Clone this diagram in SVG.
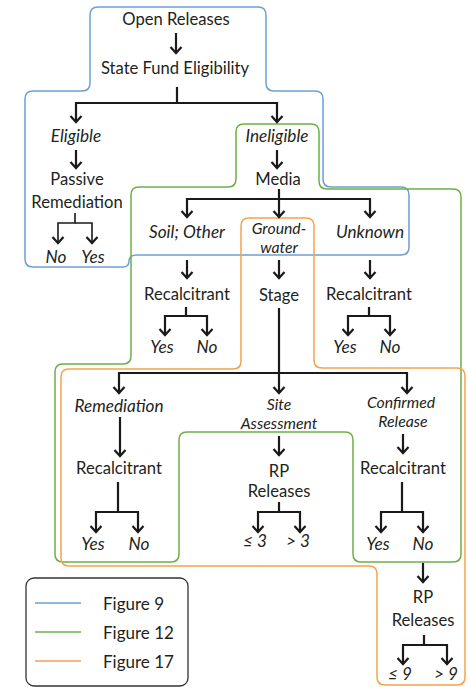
<svg xmlns="http://www.w3.org/2000/svg" width="468" height="687" viewBox="0 0 468 687">
<defs>
<style>
text{font-family:Lato,"Open Sans","Liberation Sans",sans-serif;font-size:16.6px;fill:#231f20;text-anchor:middle}
.i{font-style:italic;font-size:17.2px}
.i2{font-style:italic;font-size:15.8px}
.l{text-anchor:start;font-size:17px}
.c{fill:none;stroke:#1a1a1a;stroke-width:2.2;marker-end:url(#ah)}
.t{stroke-width:1.6}
.o{fill:none;stroke-width:1.5}
.blue{stroke:#6f9fd5}
.green{stroke:#6cb046}
.orange{stroke:#f5a24c}
</style>
<marker id="ah" viewBox="-8 -7 10 14" refX="0" refY="0" markerWidth="10" markerHeight="14" markerUnits="userSpaceOnUse" orient="auto">
<path d="M-6,-5.5 L0,0 L-6,5.5" fill="none" stroke="#1a1a1a" stroke-width="2.2"/>
</marker>
</defs>
<rect width="468" height="687" fill="#fff"/>
<g id="outlines">
<path class="o blue" d="M98,7 H258 Q266,7 266,15 V83 Q266,91 274,91 H315 Q323,91 323,99 V179 Q323,187 331,187 H401 Q409,187 409,195 V247 Q409,255 401,255 H137 Q129,255 129,261 Q129,267 123,267 H33 Q25,267 25,259 V99 Q25,91 33,91 H82 Q90,91 90,83 V15 Q90,7 98,7 Z"/>
<path class="o green" d="M244,124 H311 Q319,124 319,132 V181 Q319,189 327,189 H453 Q461,189 461,197 V554 Q461,562 453,562 H361 Q353,562 353,554 V440 Q353,432 345,432 H187 Q179,432 179,440 V554 Q179,562 171,562 H63 Q55,562 55,554 V372 Q55,364 63,364 H123 Q131,364 131,356 V195 Q131,187 139,187 H228 Q236,187 236,179 V132 Q236,124 244,124 Z"/>
<path class="o orange" d="M249,218 H306 Q314,218 314,226 V360 Q314,368 322,368 H457 Q465,368 465,376 V677 Q465,685 457,685 H385 Q377,685 377,677 V574 Q377,566 369,566 H69 Q61,566 61,558 V377 Q61,369 69,369 H233 Q241,369 241,361 V226 Q241,218 249,218 Z"/>
</g>
<g id="connectors">
<path class="c" d="M176,33 V53"/>
<path class="c" d="M177,87 V103 H76 V122"/>
<path class="c" d="M177,103 H277 V122"/>
<path class="c" d="M76,150 V168"/>
<path class="c t" d="M75,213 V223 H58 V243"/>
<path class="c t" d="M75,223 H92 V243"/>
<path class="c" d="M277,150 V168"/>
<path class="c" d="M279,189 V199 H187 V217"/>
<path class="c" d="M279,199 V217"/>
<path class="c" d="M279,199 H370 V217"/>
<path class="c" d="M187,260 V278"/>
<path class="c" d="M279,260 V278"/>
<path class="c" d="M370,260 V278"/>
<path class="c" d="M186,307 V316 H165 V335"/>
<path class="c" d="M186,316 H207 V335"/>
<path class="c" d="M369,307 V316 H348 V335"/>
<path class="c" d="M369,316 H390 V335"/>
<path class="c" d="M279,308 V373 H119 V393"/>
<path class="c" d="M279,373 V393"/>
<path class="c" d="M279,373 H407 V393"/>
<path class="c" d="M120,417 V456"/>
<path class="c" d="M118,482 V512 H96 V532"/>
<path class="c" d="M118,512 H138 V532"/>
<path class="c" d="M279,436 V455"/>
<path class="c" d="M279,502 V512 H258 V532"/>
<path class="c" d="M279,512 H300 V532"/>
<path class="c" d="M403,434 V453"/>
<path class="c" d="M402,482 V512 H381 V532"/>
<path class="c" d="M402,512 H423 V532"/>
<path class="c" d="M423,563 V582"/>
<path class="c" d="M424,635 V645 H403 V664"/>
<path class="c" d="M424,645 H447 V664"/>
</g>
<g id="n-open"><text x="176" y="25">Open Releases</text></g>
<g id="n-fund"><text x="175" y="74">State Fund Eligibility</text></g>
<g id="n-eligible"><text class="i" x="76" y="142">Eligible</text></g>
<g id="n-ineligible"><text class="i" x="277" y="142">Ineligible</text></g>
<g id="n-passive"><text x="77" y="185">Passive</text><text x="77" y="208">Remediation</text></g>
<g id="n-passive-no"><text class="i" x="56" y="263">No</text></g>
<g id="n-passive-yes"><text class="i" x="93" y="263">Yes</text></g>
<g id="n-media"><text x="278" y="185">Media</text></g>
<g id="n-soil"><text class="i" x="187" y="238">Soil; Other</text></g>
<g id="n-groundwater"><text class="i2" x="279" y="234">Ground-</text><text class="i2" x="279" y="253">water</text></g>
<g id="n-unknown"><text class="i" x="370" y="238">Unknown</text></g>
<g id="n-recalc-soil"><text x="187" y="300">Recalcitrant</text></g>
<g id="n-soil-yes"><text class="i" x="162" y="353">Yes</text></g>
<g id="n-soil-no"><text class="i" x="207" y="353">No</text></g>
<g id="n-stage"><text x="279" y="301">Stage</text></g>
<g id="n-recalc-unknown"><text x="369" y="300">Recalcitrant</text></g>
<g id="n-unknown-yes"><text class="i" x="345" y="353">Yes</text></g>
<g id="n-unknown-no"><text class="i" x="390" y="353">No</text></g>
<g id="n-remediation"><text class="i" x="119" y="412">Remediation</text></g>
<g id="n-site"><text class="i2" x="279" y="410">Site</text><text class="i2" x="279" y="429">Assessment</text></g>
<g id="n-confirmed"><text class="i2" x="401" y="408">Confirmed</text><text class="i2" x="403" y="427">Release</text></g>
<g id="n-recalc-rem"><text x="119" y="474">Recalcitrant</text></g>
<g id="n-rem-yes"><text class="i" x="93" y="550">Yes</text></g>
<g id="n-rem-no"><text class="i" x="139" y="550">No</text></g>
<g id="n-rp-site"><text x="279" y="477">RP</text><text x="279" y="497">Releases</text></g>
<g id="n-le3"><text class="i" x="255" y="547">≤ 3</text></g>
<g id="n-gt3"><text class="i" x="298" y="547">&gt; 3</text></g>
<g id="n-recalc-conf"><text x="403" y="474">Recalcitrant</text></g>
<g id="n-conf-yes"><text class="i" x="378" y="550">Yes</text></g>
<g id="n-conf-no"><text class="i" x="423" y="550">No</text></g>
<g id="n-rp-conf"><text x="423" y="603">RP</text><text x="423" y="626">Releases</text></g>
<g id="n-le9"><text class="i" x="400" y="680">≤ 9</text></g>
<g id="n-gt9"><text class="i" x="446" y="680">&gt; 9</text></g>
<g id="legend">
<rect x="26" y="578" width="162" height="108" rx="8" fill="none" stroke="#333" stroke-width="1.3"/>
<line x1="35" y1="603" x2="81" y2="603" class="o blue" stroke-width="2"/>
<line x1="35" y1="632" x2="81" y2="632" class="o green" stroke-width="2"/>
<line x1="35" y1="661" x2="81" y2="661" class="o orange" stroke-width="2"/>
<text class="l" x="103" y="610">Figure 9</text>
<text class="l" x="103" y="639">Figure 12</text>
<text class="l" x="103" y="668">Figure 17</text>
</g>
</svg>
